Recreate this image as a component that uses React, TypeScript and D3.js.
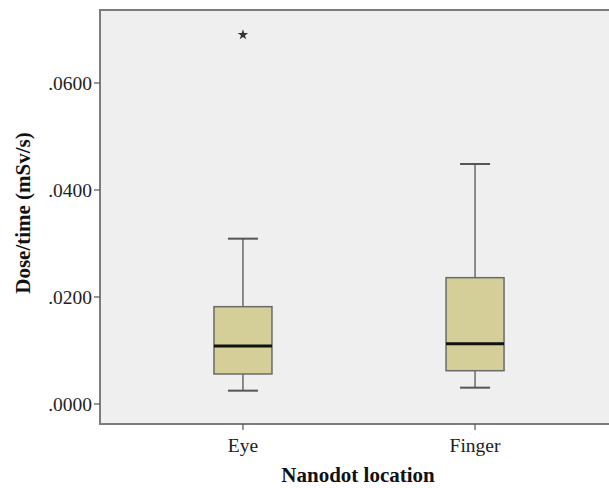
import React from "react";
import * as d3 from "d3";

const categories = ["Eye", "Finger"];
const lowerWhisker = [0.00249, 0.00305];
const q1 = [0.00561, 0.00622];
const median = [0.01084, 0.01127];
const q3 = [0.01819, 0.02361];
const upperWhisker = [0.0309, 0.04486];
const outliers = [{ cat: "Eye", value: 0.069 }];
const yTicks = [0, 0.02, 0.04, 0.06];

const W = 609;
const H = 488;
const plot = { left: 100, top: 10, right: 618, bottom: 424 };

export default function App() {
  const y = d3.scaleLinear().domain([-0.00374, 0.07364]).range([plot.bottom, plot.top]);
  const x = d3.scalePoint<string>().domain(categories).range([plot.left, plot.right]).padding(0.616);
  const fmt = (v: number) => d3.format(".4f")(v).replace(/^0/, "");
  const boxW = 58;
  const capW = 30;
  const star = d3.symbol().type(d3.symbolStar).size(34)();
  return (
    <svg width={W} height={H} style={{ position: "absolute", left: 0, top: 0 }} fontFamily="'Liberation Serif', 'Times New Roman', serif">
      <rect x={0} y={0} width={W} height={H} fill="#ffffff" />
      <rect x={plot.left} y={plot.top} width={plot.right - plot.left} height={plot.bottom - plot.top} fill="#efefef" stroke="#7c7c7c" strokeWidth={2} />
      {yTicks.map((t) => (
        <g key={t}>
          <line x1={plot.left - 6} x2={plot.left} y1={y(t)} y2={y(t)} stroke="#555" strokeWidth={1.2} />
          <text x={plot.left - 8} y={y(t)} dy="0.35em" textAnchor="end" fontSize={19.5} fill="#222">{fmt(t)}</text>
        </g>
      ))}
      {categories.map((c) => (
        <g key={c}>
          <line x1={x(c)} x2={x(c)} y1={plot.bottom} y2={plot.bottom + 6} stroke="#555" strokeWidth={1.2} />
          <text x={x(c)} y={plot.bottom + 28} textAnchor="middle" fontSize={19.5} fill="#222">{c}</text>
        </g>
      ))}
      {categories.map((c, i) => {
        const cx = x(c) as number;
        return (
          <g key={"box" + c}>
            <line x1={cx} x2={cx} y1={y(upperWhisker[i])} y2={y(q3[i])} stroke="#6a6a6a" strokeWidth={1.5} />
            <line x1={cx} x2={cx} y1={y(q1[i])} y2={y(lowerWhisker[i])} stroke="#6a6a6a" strokeWidth={1.5} />
            <line x1={cx - capW / 2} x2={cx + capW / 2} y1={y(upperWhisker[i])} y2={y(upperWhisker[i])} stroke="#555" strokeWidth={2} />
            <line x1={cx - capW / 2} x2={cx + capW / 2} y1={y(lowerWhisker[i])} y2={y(lowerWhisker[i])} stroke="#555" strokeWidth={2} />
            <rect x={cx - boxW / 2} y={y(q3[i])} width={boxW} height={y(q1[i]) - y(q3[i])} fill="#d4cf98" stroke="#6a6a6a" strokeWidth={1.5} />
            <line x1={cx - boxW / 2} x2={cx + boxW / 2} y1={y(median[i])} y2={y(median[i])} stroke="#111" strokeWidth={3} />
          </g>
        );
      })}
      {outliers.map((o, i) => (
        <path key={"o" + i} d={star as string} transform={`translate(${x(o.cat)},${y(o.value)})`} fill="#333" />
      ))}
      <text transform={`translate(30,${(plot.top + plot.bottom) / 2 - 4}) rotate(-90)`} textAnchor="middle" fontSize={21} fontWeight="bold" fill="#111">Dose/time (mSv/s)</text>
      <text x={358} y={482} textAnchor="middle" fontSize={21} fontWeight="bold" fill="#111">Nanodot location</text>
    </svg>
  );
}
